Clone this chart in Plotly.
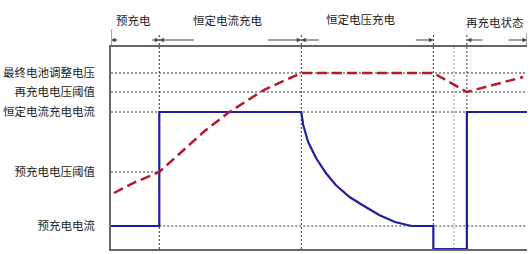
import plotly.graph_objects as go

# ---- data ----
# phase boundaries (time units)
t_start = 0.0
t_pre_end = 4.9
t_cc_end = 19.3
t_cv_end = 32.7
t_mid = 34.8
t_rech = 36.1
t_end = 42.2

# levels
lvl_ipre = 0.23
lvl_vpre = 0.77
lvl_icc = 1.37
lvl_vrech = 1.57
lvl_vfinal = 1.76
y_top = 2.02

level_vals = [lvl_ipre, lvl_vpre, lvl_icc, lvl_vrech, lvl_vfinal]
level_labels = ["预充电电流", "预充电电压阈值", "恒定电流充电电流", "再充电电压阈值", "最终电池调整电压"]

phase_labels = ["预充电", "恒定电流充电", "恒定电压充电", "再充电状态"]
phase_label_x = [2.3, 11.8, 25.3, 39.0]
phase_label_ypx = [20, 20, 19, 22]

# current (blue)
cur_t = [0.0, 4.9, 4.9, 19.3, 19.5, 20.0, 20.8, 21.8, 22.8, 24.2, 25.5, 27.2, 28.8, 30.5, 32.7, 32.7, 36.1, 36.1, 42.2]
cur_v = [0.23, 0.23, 1.37, 1.37, 1.24, 1.07, 0.91, 0.76, 0.64, 0.52, 0.44, 0.34, 0.27, 0.23, 0.23, 0.0, 0.0, 1.37, 1.37]

# voltage (red dashed)
vol_t = [0.3, 2.5, 4.9, 7.0, 9.5, 12.0, 15.5, 19.3, 32.7, 36.1, 41.8]
vol_v = [0.56, 0.67, 0.77, 0.96, 1.18, 1.37, 1.59, 1.76, 1.76, 1.57, 1.72]

# ---- figure ----
PLOT_H = 202.0  # px height of plot area

def py(pixel_y):  # pixel y in page -> paper coordinate
    return (249 - pixel_y) / PLOT_H

fig = go.Figure()
fig.add_trace(go.Scatter(x=cur_t, y=cur_v, mode="lines",
                         line=dict(color="#1f1fa0", width=2.2), hoverinfo="skip"))
fig.add_trace(go.Scatter(x=vol_t, y=vol_v, mode="lines",
                         line=dict(color="#b3192f", width=2.5, dash="10px,5px"), hoverinfo="skip"))

dot = dict(color="#333333", width=1, dash="2px,2px")
shapes = []
# horizontal reference lines
for lv in [lvl_vfinal, lvl_vrech, lvl_icc]:
    shapes.append(dict(type="line", xref="x", yref="y", x0=t_start, x1=t_end, y0=lv, y1=lv, line=dot, layer="below"))
shapes.append(dict(type="line", xref="x", yref="y", x0=t_start, x1=t_pre_end, y0=lvl_vpre, y1=lvl_vpre, line=dot, layer="below"))
shapes.append(dict(type="line", xref="x", yref="y", x0=t_pre_end, x1=t_end, y0=lvl_ipre, y1=lvl_ipre, line=dot, layer="below"))
# vertical boundaries
for tb in [t_pre_end, t_cc_end, t_cv_end, t_rech]:
    shapes.append(dict(type="line", xref="x", yref="paper", x0=tb, x1=tb, y0=0, y1=py(33), line=dot, layer="below"))
shapes.append(dict(type="line", xref="x", yref="paper", x0=t_mid, x1=t_mid, y0=0, y1=1,
                   line=dict(color="#aaaaaa", width=1, dash="2px,2px"), layer="below"))
# end ticks in the arrow row
shapes.append(dict(type="line", xref="x", yref="paper", x0=t_start, x1=t_start, y0=1, y1=py(29),
                   line=dict(color="#555555", width=1)))
shapes.append(dict(type="line", xref="x", yref="paper", x0=t_end, x1=t_end, y0=1, y1=py(33),
                   line=dict(color="#555555", width=1)))

annotations = []
# phase labels
for lab, xx, ypx in zip(phase_labels, phase_label_x, phase_label_ypx):
    annotations.append(dict(text=lab, x=xx, y=py(ypx), xref="x", yref="paper", showarrow=False,
                            font=dict(size=11.5, color="#222222"), xanchor="center", yanchor="middle"))
# arrows (x, tail offset px)
arrows = [(t_start, 8), (t_pre_end, -9), (t_pre_end, 36), (t_cc_end, -35), (t_cc_end, 19),
          (t_cv_end, -19), (t_rech, 17), (t_end, -20)]
for xx, off in arrows:
    annotations.append(dict(text="", x=xx, y=py(40), xref="x", yref="paper", showarrow=True,
                            ax=off, ay=0, arrowhead=2, arrowsize=0.9, arrowwidth=1,
                            arrowcolor="#444444", standoff=0))

fig.update_layout(
    width=530, height=254, autosize=False,
    margin=dict(l=105, r=3, t=47, b=5),
    paper_bgcolor="white", plot_bgcolor="white",
    showlegend=False,
    font=dict(family="Noto Sans CJK SC", size=11.5, color="#222222"),
    shapes=shapes, annotations=annotations,
    xaxis=dict(range=[t_start, t_end], showticklabels=False, showgrid=False, zeroline=False,
               showline=True, mirror=True, linecolor="#666666", linewidth=1.5, ticks=""),
    yaxis=dict(range=[0, y_top], tickvals=level_vals, ticktext=level_labels, showgrid=False,
               zeroline=False, showline=True, linecolor="#666666", linewidth=1.5, ticks="",
               ticklabelstandoff=12, tickfont=dict(size=11.5, color="#222222")),
)

fig.write_html("out.html")
